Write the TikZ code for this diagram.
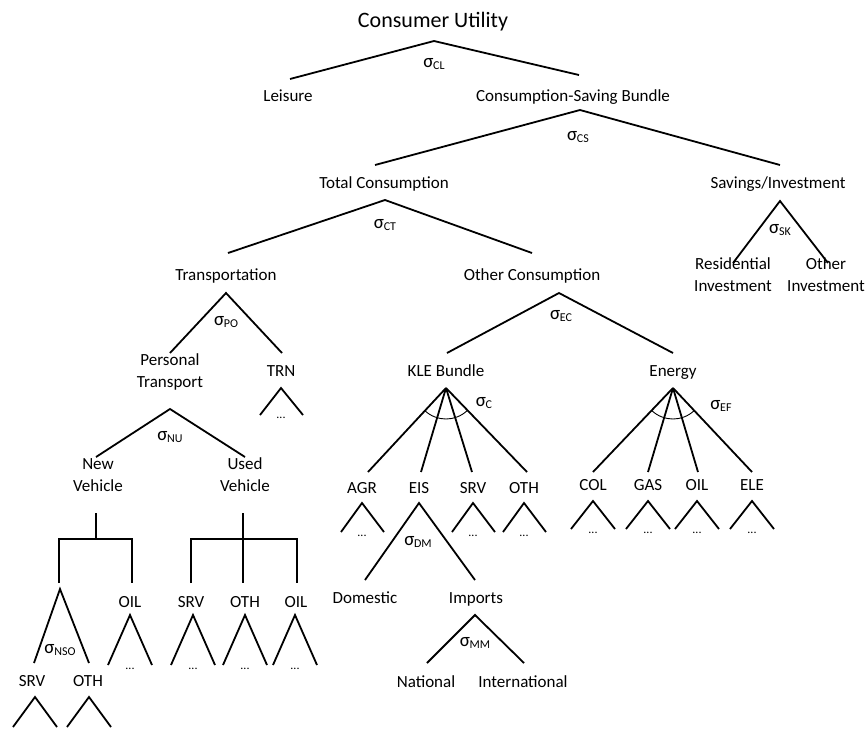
\documentclass[tikz,border=0pt]{standalone}
\usepackage{fontspec}
\setmainfont{Carlito}
% elasticity label: sigma with a lowered subscript
\newcommand\elas[1]{{\fontsize{19}{21}\selectfont σ}\kern-0.3pt\raisebox{-0.45ex}{\fontsize{12}{12}\selectfont #1}}
\begin{document}
\begin{tikzpicture}[x=1pt,y=-1pt,
  lbl/.style={font=\fontsize{17}{22}\selectfont, inner sep=0pt, align=center, text height=11pt, text depth=0pt},
  ttl/.style={font=\fontsize{22}{26}\selectfont, inner sep=0pt, text height=14pt, text depth=0pt},
  sg/.style={inner sep=0pt},
  dotlbl/.style={font=\fontsize{12}{14}\selectfont, inner sep=0pt},
  br/.style={line width=1.8pt},
  thinarc/.style={line width=0.9pt}]
\useasboundingbox (0,0) rectangle (868,732);

% ---------- labels ----------
\node[ttl] (util) at (433,20) {Consumer Utility};
\node[sg] (sCL) at (434,64) {\elas{CL}};
\node[lbl] (leis) at (288,96) {Leisure};
\node[lbl] (csb) at (573,96) {Consumption-Saving Bundle};
\node[sg] (sCS) at (578,137) {\elas{CS}};
\node[lbl] (tc) at (384,183) {Total Consumption};
\node[lbl] (si) at (778,183) {Savings/Investment};
\node[sg] (sCT) at (385,225) {\elas{CT}};
\node[sg] (sSK) at (780,230) {\elas{SK}};
\node[lbl] (trans) at (226,275) {Transportation};
\node[lbl] (oc) at (532,275) {Other Consumption};
\node[lbl] (resi) at (733,286) {Residential\\Investment};
\node[lbl] (othi) at (826,286) {Other\\Investment};
\node[sg] (sPO) at (226,322) {\elas{PO}};
\node[sg] (sEC) at (561,316) {\elas{EC}};
\node[lbl] (pt) at (170,382) {Personal\\Transport};
\node[lbl] (trn) at (281,371) {TRN};
\node[lbl] (kle) at (446,371) {KLE Bundle};
\node[lbl] (ene) at (673,371) {Energy};
\node[dotlbl] (dTRN) at (281,418) {...};
\node[sg] (sNU) at (170,437) {\elas{NU}};
\node[lbl] (nv) at (98,486) {New\\Vehicle};
\node[lbl] (uv) at (245,486) {Used\\Vehicle};
\node[sg] (sC) at (484,403) {\elas{C}};
\node[sg] (sEF) at (721,406) {\elas{EF}};
\node[lbl] (agr) at (362,488) {AGR};
\node[lbl] (eis) at (419,488) {EIS};
\node[lbl] (srvK) at (473,488) {SRV};
\node[lbl] (othK) at (524,488) {OTH};
\node[lbl] (col) at (593,485) {COL};
\node[lbl] (gas) at (648,485) {GAS};
\node[lbl] (oilE) at (697,485) {OIL};
\node[lbl] (ele) at (752,485) {ELE};
\node[sg] (sDM) at (418,542) {\elas{DM}};
\node[lbl] (dom) at (365,598) {Domestic};
\node[lbl] (imp) at (476,598) {Imports};
\node[lbl] (oilN) at (130,602) {OIL};
\node[lbl] (srvU) at (191,602) {SRV};
\node[lbl] (othU) at (245,602) {OTH};
\node[lbl] (oilU) at (296,602) {OIL};
\node[sg] (sMM) at (475,643) {\elas{MM}};
\node[sg] (sNSO) at (60,650) {\elas{NSO}};
\node[lbl] (nat) at (426,682) {National};
\node[lbl] (intl) at (523,682) {International};
\node[lbl] (srvN) at (32,681) {SRV};
\node[lbl] (othN) at (88,681) {OTH};

% ---------- branch points ----------
\coordinate (uAp) at (434,41);  \coordinate (uL) at (290,79);  \coordinate (uR) at (579,75);
\coordinate (csAp) at (580,110); \coordinate (csL) at (375,165); \coordinate (csR) at (780,165);
\coordinate (ctAp) at (385,200); \coordinate (ctL) at (228,253); \coordinate (ctR) at (532,253);
\coordinate (skAp) at (780,201); \coordinate (skL) at (733,263); \coordinate (skR) at (828,263);
\coordinate (poAp) at (226,293); \coordinate (poL) at (170,353); \coordinate (poR) at (282,353);
\coordinate (trnAp) at (281,388); \coordinate (trnL) at (260,415); \coordinate (trnR) at (303,415);
\coordinate (nuAp) at (170,409); \coordinate (nuL) at (96,457); \coordinate (nuR) at (245,457);
\coordinate (ecAp) at (559,293); \coordinate (ecL) at (447,353); \coordinate (ecR) at (673,353);
\coordinate (kAp) at (446,388);
\coordinate (k1) at (368,472); \coordinate (k2) at (421,472); \coordinate (k3) at (472,472); \coordinate (k4) at (527,472);
\coordinate (eAp) at (673,388);
\coordinate (e1) at (593,472); \coordinate (e2) at (648,472); \coordinate (e3) at (698,472); \coordinate (e4) at (752,472);
\coordinate (dmAp) at (419,503); \coordinate (dmL) at (365,580); \coordinate (dmR) at (475,580);
\coordinate (mmAp) at (475,615); \coordinate (mmL) at (427,663); \coordinate (mmR) at (524,663);
\coordinate (nsoAp) at (60,589); \coordinate (nsoL) at (34,663); \coordinate (nsoR) at (89,663);

% vehicle brackets
\coordinate (nvTop) at (96,513); \coordinate (nvMid) at (96,539);
\coordinate (nvL) at (59,539);  \coordinate (nvLb) at (59,583);
\coordinate (nvR) at (132,539); \coordinate (nvRb) at (132,583);
\coordinate (uvTop) at (243,513); \coordinate (uvMb) at (243,583);
\coordinate (uvL) at (191,539);  \coordinate (uvLb) at (191,583);
\coordinate (uvR) at (297,539);  \coordinate (uvRb) at (297,583);

% ---------- connectors ----------
\draw[br] (uL) -- (uAp) -- (uR);
\draw[br] (csL) -- (csAp) -- (csR);
\draw[br] (ctL) -- (ctAp) -- (ctR);
\draw[br] (skL) -- (skAp) -- (skR);
\draw[br] (poL) -- (poAp) -- (poR);
\draw[br] (trnL) -- (trnAp) -- (trnR);
\draw[br] (nuL) -- (nuAp) -- (nuR);
\draw[br] (ecL) -- (ecAp) -- (ecR);
\foreach \k in {k1,k2,k3,k4} \draw[br] (kAp) -- (\k);
\foreach \k in {e1,e2,e3,e4} \draw[br] (eAp) -- (\k);
\draw[thinarc] (kAp) ++(133:31) arc[start angle=133, end angle=47, radius=31];
\draw[thinarc] (eAp) ++(133:31) arc[start angle=133, end angle=47, radius=31];
\draw[br] (dmL) -- (dmAp) -- (dmR);
\draw[br] (mmL) -- (mmAp) -- (mmR);
\draw[br] (nsoL) -- (nsoAp) -- (nsoR);

\draw[br] (nvTop) -- (nvMid);
\draw[br] (nvLb) -- (nvL) -- (nvR) -- (nvRb);
\draw[br] (uvTop) -- (uvMb);
\draw[br] (uvLb) -- (uvL) -- (uvR) -- (uvRb);

% small end forks with elided sub-trees
\foreach \x/\n in {130/a,193/b,245/c,295/d}{
  \coordinate (sA\n) at (\x,615); \coordinate (sL\n) at (\x-22,665); \coordinate (sR\n) at (\x+22,665);
  \draw[br] (sL\n) -- (sA\n) -- (sR\n);
  \node[dotlbl] (sD\n) at (\x,669) {...};
}
\foreach \x/\n in {362/a,473/b,524/c}{
  \coordinate (kA\n) at (\x,503); \coordinate (kL\n) at (\x-21,532); \coordinate (kR\n) at (\x+22,532);
  \draw[br] (kL\n) -- (kA\n) -- (kR\n);
  \node[dotlbl] (kD\n) at (\x,536) {...};
}
\foreach \x/\n in {593/a,648/b,697/c,752/d}{
  \coordinate (eA\n) at (\x,501); \coordinate (eL\n) at (\x-22,529); \coordinate (eR\n) at (\x+22,529);
  \draw[br] (eL\n) -- (eA\n) -- (eR\n);
  \node[dotlbl] (eD\n) at (\x,533) {...};
}
\foreach \x/\n in {35/a,89/b}{
  \coordinate (bA\n) at (\x,697); \coordinate (bL\n) at (\x-22,727); \coordinate (bR\n) at (\x+22,727);
  \draw[br] (bL\n) -- (bA\n) -- (bR\n);
}
\end{tikzpicture}
\end{document}
